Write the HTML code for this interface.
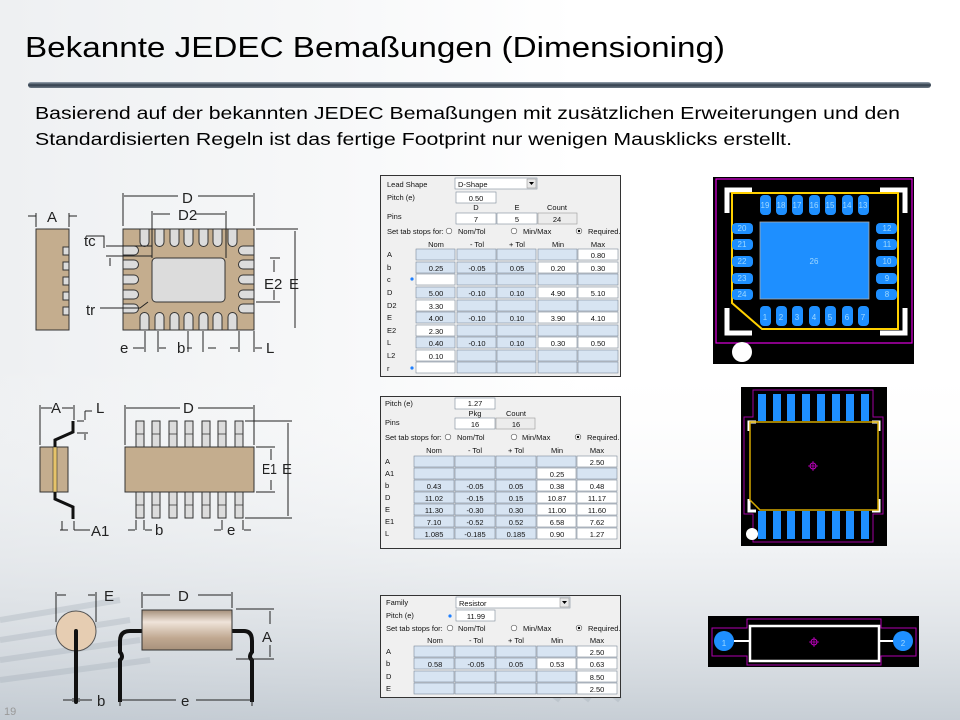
<!DOCTYPE html>
<html><head><meta charset="utf-8"><style>
html,body{margin:0;padding:0;width:960px;height:720px;overflow:hidden;background:#fff}
svg{display:block;font-family:"Liberation Sans",Arial,sans-serif}
.b{fill:#d7e4f2;stroke:#7d8a99;stroke-width:.6}
.w{fill:#fff;stroke:#7d8a99;stroke-width:.6}
.g{fill:#ececec;stroke:#999;stroke-width:.6}
.t{font-size:7.5px;fill:#111}
.c{font-size:7.5px;fill:#111;text-anchor:middle}
.d{font-size:15px;fill:#222}
.dim{stroke:#222;stroke-width:1;fill:none}
.tan{fill:#c4ad8e;stroke:#333;stroke-width:1}
.pad{fill:#dcdcdc;stroke:#333;stroke-width:1}
.bp{fill:#1e8fff}
.pt{font-size:8px;fill:#9fd8ff;text-anchor:middle}
</style></head><body>
<svg width="960" height="720" viewBox="0 0 960 720" xmlns="http://www.w3.org/2000/svg">
<defs>
<linearGradient id="bg" x1="0" y1="0" x2="1" y2="0">
<stop offset="0" stop-color="#eef0f2"/><stop offset=".35" stop-color="#f7f8f9"/><stop offset=".6" stop-color="#ffffff"/><stop offset="1" stop-color="#ffffff"/></linearGradient>
<linearGradient id="bg2" x1="0" y1="0" x2="0" y2="1">
<stop offset="0" stop-color="#fff" stop-opacity="0"/><stop offset=".6" stop-color="#d8dde2" stop-opacity=".5"/><stop offset="1" stop-color="#b9c2cb" stop-opacity=".8"/></linearGradient>
<linearGradient id="bar" x1="0" y1="0" x2="0" y2="1">
<stop offset="0" stop-color="#9aa6b2"/><stop offset=".5" stop-color="#2f3c4a"/><stop offset="1" stop-color="#6f7a86"/></linearGradient>
<linearGradient id="res" x1="0" y1="0" x2="0" y2="1">
<stop offset="0" stop-color="#a58f7a"/><stop offset=".3" stop-color="#efe4da"/><stop offset=".7" stop-color="#c0a891"/><stop offset="1" stop-color="#a8927c"/></linearGradient>
</defs>
<rect width="960" height="720" fill="url(#bg)"/>
<rect x="0" y="360" width="960" height="360" fill="url(#bg2)"/>
<g opacity=".25" stroke="#8f9aa6" stroke-width="6" fill="none">
<path d="M0 620 L120 600 M0 640 L130 620 M0 660 L140 640 M0 680 L150 660"/>
<path d="M480 640 L560 700 M500 630 L590 700 M520 620 L620 700"/>
</g>

<text x="25" y="57" font-size="29" fill="#000" textLength="700" lengthAdjust="spacingAndGlyphs">Bekannte JEDEC Bemaßungen (Dimensioning)</text>
<rect x="28" y="82" width="903" height="6" rx="3" fill="url(#bar)"/>
<text x="35" y="119" font-size="17.5" fill="#000" textLength="865" lengthAdjust="spacingAndGlyphs">Basierend auf der bekannten JEDEC Bemaßungen mit zusätzlichen Erweiterungen und den</text>
<text x="35" y="145" font-size="17.5" fill="#000" textLength="757" lengthAdjust="spacingAndGlyphs">Standardisierten Regeln ist das fertige Footprint nur wenigen Mausklicks erstellt.</text>

<!-- ===== QFN drawing ===== -->
<rect x="36" y="229" width="33" height="101" class="tan"/>
<g class="pad"><rect x="63" y="247" width="6" height="8"/><rect x="63" y="262" width="6" height="8"/><rect x="63" y="277" width="6" height="8"/><rect x="63" y="292" width="6" height="8"/><rect x="63" y="307" width="6" height="8"/></g>
<path class="dim" d="M36 213 V227 M69 213 V227 M28 216 H36 M69 216 H77"/>
<text x="47" y="222" class="d">A</text>
<rect x="123" y="229" width="131" height="101" class="tan"/>
<g class="pad">
<path d="M140 229 V242 a4.5 4.5 0 0 0 9 0 V229Z"/><path d="M155 229 V242 a4.5 4.5 0 0 0 9 0 V229Z"/><path d="M170 229 V242 a4.5 4.5 0 0 0 9 0 V229Z"/><path d="M184 229 V242 a4.5 4.5 0 0 0 9 0 V229Z"/><path d="M199 229 V242 a4.5 4.5 0 0 0 9 0 V229Z"/><path d="M213 229 V242 a4.5 4.5 0 0 0 9 0 V229Z"/><path d="M228 229 V242 a4.5 4.5 0 0 0 9 0 V229Z"/>
<path d="M140 330 V317 a4.5 4.5 0 0 1 9 0 V330Z"/><path d="M155 330 V317 a4.5 4.5 0 0 1 9 0 V330Z"/><path d="M170 330 V317 a4.5 4.5 0 0 1 9 0 V330Z"/><path d="M184 330 V317 a4.5 4.5 0 0 1 9 0 V330Z"/><path d="M199 330 V317 a4.5 4.5 0 0 1 9 0 V330Z"/><path d="M213 330 V317 a4.5 4.5 0 0 1 9 0 V330Z"/><path d="M228 330 V317 a4.5 4.5 0 0 1 9 0 V330Z"/>
<path d="M123 246 H134 a4.5 4.5 0 0 1 0 9 H123Z"/><path d="M123 260 H134 a4.5 4.5 0 0 1 0 9 H123Z"/><path d="M123 275 H134 a4.5 4.5 0 0 1 0 9 H123Z"/><path d="M123 290 H134 a4.5 4.5 0 0 1 0 9 H123Z"/><path d="M123 304 H134 a4.5 4.5 0 0 1 0 9 H123Z"/>
<path d="M254 246 H243 a4.5 4.5 0 0 0 0 9 H254Z"/><path d="M254 260 H243 a4.5 4.5 0 0 0 0 9 H254Z"/><path d="M254 275 H243 a4.5 4.5 0 0 0 0 9 H254Z"/><path d="M254 290 H243 a4.5 4.5 0 0 0 0 9 H254Z"/><path d="M254 304 H243 a4.5 4.5 0 0 0 0 9 H254Z"/>
<rect x="152" y="258" width="73" height="44" rx="4"/>
</g>
<path class="dim" d="M123 193 V226 M254 193 V226 M124 196 H178 M198 196 H253 M152 211 V258 M226 211 V258 M153 214 H170 M196 214 H225 M256 229 H298 M256 302 H280 M270 258 H280 M295 231 V328 M274 260 V272 M274 290 V300 M86 236 H104 V248 M106 246 H152 M106 256 H152 M110 258 V266 M100 308 H140 L148 302"/>
<text x="182" y="203" class="d">D</text><text x="178" y="220" class="d">D2</text>
<text x="264" y="289" class="d">E2</text><text x="289" y="289" class="d">E</text>
<text x="84" y="246" class="d" font-size="14">tc</text><text x="86" y="315" class="d" font-size="14">tr</text>
<path class="dim" d="M145 331 V352 M158 331 V352 M188 331 V352 M203 331 V352 M239 331 V352 M254 331 V352 M133 348 H144 M159 348 H166 M192 348 H187 M208 348 H216 M230 348 H238 M255 348 H262"/>
<text x="120" y="353" class="d" font-size="14">e</text><text x="177" y="353" class="d" font-size="14">b</text><text x="266" y="353" class="d" font-size="14">L</text>

<!-- ===== SOIC drawing ===== -->
<rect x="40" y="447" width="28" height="45" class="tan"/>
<rect x="53" y="447" width="4" height="45" fill="#e6c36a" stroke="#333" stroke-width=".6"/>
<path d="M55 447 V440 L73 432 V421 M55 492 V499 L73 507 V519" stroke="#111" stroke-width="3" fill="none"/>
<path class="dim" d="M40 405 V445 M74 405 V420 M41 408 H52 M62 408 H73 M77 421 H84 M77 433 H88 M85 411 V420 M85 434 V440 M85 411 H92 M62 521 V530 M74 521 V530 M60 530 H68 M74 530 H90"/>
<text x="51" y="413" class="d" font-size="14">A</text><text x="96" y="413" class="d" font-size="14">L</text><text x="91" y="536" class="d" font-size="14">A1</text>
<g class="pad">
<rect x="136" y="421" width="8" height="26"/><rect x="152" y="421" width="8" height="26"/><rect x="169" y="421" width="8" height="26"/><rect x="185" y="421" width="8" height="26"/><rect x="202" y="421" width="8" height="26"/><rect x="218" y="421" width="8" height="26"/><rect x="235" y="421" width="8" height="26"/>
<rect x="136" y="492" width="8" height="26"/><rect x="152" y="492" width="8" height="26"/><rect x="169" y="492" width="8" height="26"/><rect x="185" y="492" width="8" height="26"/><rect x="202" y="492" width="8" height="26"/><rect x="218" y="492" width="8" height="26"/><rect x="235" y="492" width="8" height="26"/>
</g>
<path d="M136 434 H144 M152 434 H160 M169 434 H177 M185 434 H193 M202 434 H210 M218 434 H226 M235 434 H243 M136 505 H144 M152 505 H160 M169 505 H177 M185 505 H193 M202 505 H210 M218 505 H226 M235 505 H243" stroke="#333" stroke-width=".8"/>
<rect x="125" y="447" width="129" height="45" class="tan"/>
<path class="dim" d="M125 405 V445 M254 405 V445 M126 408 H180 M198 408 H253 M245 421 H292 M245 518 H292 M256 447 H275 M256 492 H275 M288 423 V516 M271 449 V460 M271 480 V490 M136 520 V530 M144 520 V530 M128 530 H135 M145 530 H152 M222 520 V530 M243 520 V530 M214 530 H221 M244 530 H251"/>
<text x="183" y="413" class="d" font-size="14">D</text><text x="262" y="474" class="d" font-size="14" textLength="15" lengthAdjust="spacingAndGlyphs">E1</text><text x="282" y="474" class="d" font-size="14">E</text>
<text x="155" y="535" class="d" font-size="14">b</text><text x="227" y="535" class="d" font-size="14">e</text>

<!-- ===== Resistor drawing ===== -->
<circle cx="76" cy="631" r="20" fill="#e6cdb2" stroke="#555" stroke-width="1"/>
<path d="M76 631 V702" stroke="#111" stroke-width="4" fill="none" stroke-linecap="round"/>
<path d="M142 631 H130 Q120 631 120 641 V652 Q124 657 120 660 V702 M232 631 H244 Q252 631 252 641 V652 Q248 657 252 660 V702" stroke="#111" stroke-width="4" fill="none"/>
<rect x="142" y="610" width="90" height="40" fill="url(#res)" stroke="#333" stroke-width="1"/>
<path class="dim" d="M56 592 V622 M96 592 V622 M57 595 H66 M88 595 H95 M142 592 V608 M232 592 V608 M143 595 H170 M198 595 H231 M236 609 H274 M236 659 H274 M270 611 V624 M270 645 V657 M73 698 V702 M79 698 V702 M63 700 H72 M80 700 H92 M120 700 V706 M252 700 V706 M121 700 H176 M196 700 H251"/>
<text x="104" y="601" class="d" font-size="17">E</text><text x="178" y="601" class="d" font-size="17">D</text><text x="262" y="642" class="d" font-size="17">A</text>
<text x="97" y="706" class="d" font-size="16">b</text><text x="181" y="706" class="d" font-size="16">e</text>
<text x="4" y="715" font-size="11" fill="#999">19</text>

<!-- ===== Table 1 ===== -->
<rect x="380" y="175" width="241" height="202" fill="#333"/>
<rect x="381" y="176" width="239" height="200" fill="#f0f0f0"/>
<text x="387" y="187" class="t">Lead Shape</text>
<rect x="455" y="178" width="82" height="11" class="w"/><text x="458" y="187" class="t">D-Shape</text>
<rect x="527" y="179" width="9" height="9" fill="#e8e8e8" stroke="#888" stroke-width=".5"/><path d="M529 182 h5 l-2.5 3z" fill="#000"/>
<text x="387" y="200" class="t">Pitch (e)</text>
<rect x="456" y="192" width="40" height="11" class="w"/><text x="476" y="201" class="c">0.50</text>
<text x="476" y="210" class="c">D</text><text x="517" y="210" class="c">E</text><text x="557" y="210" class="c" fill="#555">Count</text>
<text x="387" y="219" class="t">Pins</text>
<rect x="456" y="213" width="40" height="11" class="w"/><text x="476" y="222" class="c">7</text>
<rect x="497" y="213" width="40" height="11" class="w"/><text x="517" y="222" class="c">5</text>
<rect x="538" y="213" width="39" height="11" class="g"/><text x="557" y="222" class="c" fill="#888">24</text>
<text x="387" y="234" class="t">Set tab stops for:</text>
<circle cx="449" cy="231" r="2.8" fill="#fff" stroke="#555" stroke-width=".6"/><text x="458" y="234" class="t">Nom/Tol</text>
<circle cx="514" cy="231" r="2.8" fill="#fff" stroke="#555" stroke-width=".6"/><text x="523" y="234" class="t">Min/Max</text>
<circle cx="579" cy="231" r="2.8" fill="#fff" stroke="#555" stroke-width=".6"/><circle cx="579" cy="231" r="1.2" fill="#000"/><text x="588" y="234" class="t">Required.</text>
<text x="436" y="247" class="c">Nom</text><text x="477" y="247" class="c">- Tol</text><text x="517" y="247" class="c">+ Tol</text><text x="558" y="247" class="c">Min</text><text x="598" y="247" class="c">Max</text>
<g>
<text x="387" y="257" class="t">A</text><rect x="416" y="249" width="39" height="11" class="b"/><rect x="457" y="249" width="39" height="11" class="b"/><rect x="497" y="249" width="39" height="11" class="b"/><rect x="538" y="249" width="39" height="11" class="b"/><rect x="578" y="249" width="40" height="11" class="w"/><text x="598" y="258" class="c">0.80</text>
<text x="387" y="270" class="t">b</text><rect x="416" y="262" width="39" height="11" class="b"/><rect x="457" y="262" width="39" height="11" class="b"/><rect x="497" y="262" width="39" height="11" class="b"/><rect x="538" y="262" width="39" height="11" class="w"/><rect x="578" y="262" width="40" height="11" class="w"/><text x="436" y="271" class="c">0.25</text><text x="477" y="271" class="c">-0.05</text><text x="517" y="271" class="c">0.05</text><text x="558" y="271" class="c">0.20</text><text x="598" y="271" class="c">0.30</text>
<text x="387" y="282" class="t">c</text><circle cx="412" cy="279" r="1.6" fill="#1e7fff"/><rect x="416" y="274" width="39" height="11" class="w"/><rect x="457" y="274" width="39" height="11" class="b"/><rect x="497" y="274" width="39" height="11" class="b"/><rect x="538" y="274" width="39" height="11" class="b"/><rect x="578" y="274" width="40" height="11" class="b"/>
<text x="387" y="295" class="t">D</text><rect x="416" y="287" width="39" height="11" class="b"/><rect x="457" y="287" width="39" height="11" class="b"/><rect x="497" y="287" width="39" height="11" class="b"/><rect x="538" y="287" width="39" height="11" class="w"/><rect x="578" y="287" width="40" height="11" class="w"/><text x="436" y="296" class="c">5.00</text><text x="477" y="296" class="c">-0.10</text><text x="517" y="296" class="c">0.10</text><text x="558" y="296" class="c">4.90</text><text x="598" y="296" class="c">5.10</text>
<text x="387" y="308" class="t">D2</text><rect x="416" y="300" width="39" height="11" class="w"/><rect x="457" y="300" width="39" height="11" class="b"/><rect x="497" y="300" width="39" height="11" class="b"/><rect x="538" y="300" width="39" height="11" class="b"/><rect x="578" y="300" width="40" height="11" class="b"/><text x="436" y="309" class="c">3.30</text>
<text x="387" y="320" class="t">E</text><rect x="416" y="312" width="39" height="11" class="b"/><rect x="457" y="312" width="39" height="11" class="b"/><rect x="497" y="312" width="39" height="11" class="b"/><rect x="538" y="312" width="39" height="11" class="w"/><rect x="578" y="312" width="40" height="11" class="w"/><text x="436" y="321" class="c">4.00</text><text x="477" y="321" class="c">-0.10</text><text x="517" y="321" class="c">0.10</text><text x="558" y="321" class="c">3.90</text><text x="598" y="321" class="c">4.10</text>
<text x="387" y="333" class="t">E2</text><rect x="416" y="325" width="39" height="11" class="w"/><rect x="457" y="325" width="39" height="11" class="b"/><rect x="497" y="325" width="39" height="11" class="b"/><rect x="538" y="325" width="39" height="11" class="b"/><rect x="578" y="325" width="40" height="11" class="b"/><text x="436" y="334" class="c">2.30</text>
<text x="387" y="345" class="t">L</text><rect x="416" y="337" width="39" height="11" class="b"/><rect x="457" y="337" width="39" height="11" class="b"/><rect x="497" y="337" width="39" height="11" class="b"/><rect x="538" y="337" width="39" height="11" class="w"/><rect x="578" y="337" width="40" height="11" class="w"/><text x="436" y="346" class="c">0.40</text><text x="477" y="346" class="c">-0.10</text><text x="517" y="346" class="c">0.10</text><text x="558" y="346" class="c">0.30</text><text x="598" y="346" class="c">0.50</text>
<text x="387" y="358" class="t">L2</text><rect x="416" y="350" width="39" height="11" class="w"/><rect x="457" y="350" width="39" height="11" class="b"/><rect x="497" y="350" width="39" height="11" class="b"/><rect x="538" y="350" width="39" height="11" class="b"/><rect x="578" y="350" width="40" height="11" class="b"/><text x="436" y="359" class="c">0.10</text>
<text x="387" y="371" class="t">r</text><circle cx="412" cy="368" r="1.6" fill="#1e7fff"/><rect x="416" y="362" width="39" height="11" class="w"/><rect x="457" y="362" width="39" height="11" class="b"/><rect x="497" y="362" width="39" height="11" class="b"/><rect x="538" y="362" width="39" height="11" class="b"/><rect x="578" y="362" width="40" height="11" class="b"/>
</g>

<!-- ===== Table 2 ===== -->
<rect x="380" y="396" width="241" height="153" fill="#333"/>
<rect x="381" y="397" width="239" height="151" fill="#f0f0f0"/>
<text x="385" y="406" class="t">Pitch (e)</text>
<rect x="455" y="398" width="40" height="11" class="w"/><text x="475" y="406" class="c">1.27</text>
<text x="475" y="416" class="c">Pkg</text><text x="516" y="416" class="c" fill="#555">Count</text>
<text x="385" y="425" class="t">Pins</text>
<rect x="455" y="418" width="40" height="11" class="w"/><text x="475" y="427" class="c">16</text>
<rect x="496" y="418" width="39" height="11" class="g"/><text x="516" y="427" class="c" fill="#888">16</text>
<text x="385" y="440" class="t">Set tab stops for:</text>
<circle cx="448" cy="437" r="2.8" fill="#fff" stroke="#555" stroke-width=".6"/><text x="457" y="440" class="t">Nom/Tol</text>
<circle cx="514" cy="437" r="2.8" fill="#fff" stroke="#555" stroke-width=".6"/><text x="522" y="440" class="t">Min/Max</text>
<circle cx="578" cy="437" r="2.8" fill="#fff" stroke="#555" stroke-width=".6"/><circle cx="578" cy="437" r="1.2" fill="#000"/><text x="587" y="440" class="t">Required.</text>
<text x="434" y="453" class="c">Nom</text><text x="475" y="453" class="c">- Tol</text><text x="516" y="453" class="c">+ Tol</text><text x="557" y="453" class="c">Min</text><text x="597" y="453" class="c">Max</text>
<text x="385" y="464" class="t">A</text><rect x="414" y="456" width="40" height="11" class="b"/><rect x="455" y="456" width="40" height="11" class="b"/><rect x="496" y="456" width="40" height="11" class="b"/><rect x="537" y="456" width="39" height="11" class="b"/><rect x="577" y="456" width="40" height="11" class="w"/><text x="597" y="465" class="c">2.50</text>
<text x="385" y="476" class="t">A1</text><rect x="414" y="468" width="40" height="11" class="b"/><rect x="455" y="468" width="40" height="11" class="b"/><rect x="496" y="468" width="40" height="11" class="b"/><rect x="537" y="468" width="39" height="11" class="w"/><rect x="577" y="468" width="40" height="11" class="b"/><text x="557" y="477" class="c">0.25</text>
<text x="385" y="488" class="t">b</text><rect x="414" y="480" width="40" height="11" class="b"/><rect x="455" y="480" width="40" height="11" class="b"/><rect x="496" y="480" width="40" height="11" class="b"/><rect x="537" y="480" width="39" height="11" class="w"/><rect x="577" y="480" width="40" height="11" class="w"/><text x="434" y="489" class="c">0.43</text><text x="475" y="489" class="c">-0.05</text><text x="516" y="489" class="c">0.05</text><text x="557" y="489" class="c">0.38</text><text x="597" y="489" class="c">0.48</text>
<text x="385" y="500" class="t">D</text><rect x="414" y="492" width="40" height="11" class="b"/><rect x="455" y="492" width="40" height="11" class="b"/><rect x="496" y="492" width="40" height="11" class="b"/><rect x="537" y="492" width="39" height="11" class="w"/><rect x="577" y="492" width="40" height="11" class="w"/><text x="434" y="501" class="c">11.02</text><text x="475" y="501" class="c">-0.15</text><text x="516" y="501" class="c">0.15</text><text x="557" y="501" class="c">10.87</text><text x="597" y="501" class="c">11.17</text>
<text x="385" y="512" class="t">E</text><rect x="414" y="504" width="40" height="11" class="b"/><rect x="455" y="504" width="40" height="11" class="b"/><rect x="496" y="504" width="40" height="11" class="b"/><rect x="537" y="504" width="39" height="11" class="w"/><rect x="577" y="504" width="40" height="11" class="w"/><text x="434" y="513" class="c">11.30</text><text x="475" y="513" class="c">-0.30</text><text x="516" y="513" class="c">0.30</text><text x="557" y="513" class="c">11.00</text><text x="597" y="513" class="c">11.60</text>
<text x="385" y="524" class="t">E1</text><rect x="414" y="516" width="40" height="11" class="b"/><rect x="455" y="516" width="40" height="11" class="b"/><rect x="496" y="516" width="40" height="11" class="b"/><rect x="537" y="516" width="39" height="11" class="w"/><rect x="577" y="516" width="40" height="11" class="w"/><text x="434" y="525" class="c">7.10</text><text x="475" y="525" class="c">-0.52</text><text x="516" y="525" class="c">0.52</text><text x="557" y="525" class="c">6.58</text><text x="597" y="525" class="c">7.62</text>
<text x="385" y="536" class="t">L</text><rect x="414" y="528" width="40" height="11" class="b"/><rect x="455" y="528" width="40" height="11" class="b"/><rect x="496" y="528" width="40" height="11" class="b"/><rect x="537" y="528" width="39" height="11" class="w"/><rect x="577" y="528" width="40" height="11" class="w"/><text x="434" y="537" class="c">1.085</text><text x="475" y="537" class="c">-0.185</text><text x="516" y="537" class="c">0.185</text><text x="557" y="537" class="c">0.90</text><text x="597" y="537" class="c">1.27</text>

<!-- ===== Table 3 ===== -->
<rect x="380" y="595" width="241" height="103" fill="#333"/>
<rect x="381" y="596" width="239" height="101" fill="#f0f0f0"/>
<text x="386" y="605" class="t">Family</text>
<rect x="456" y="597" width="114" height="11" class="w"/><text x="459" y="606" class="t">Resistor</text>
<rect x="560" y="598" width="9" height="9" fill="#e8e8e8" stroke="#888" stroke-width=".5"/><path d="M562 601 h5 l-2.5 3z" fill="#000"/>
<text x="386" y="618" class="t">Pitch (e)</text><circle cx="450" cy="616" r="1.6" fill="#1e7fff"/>
<rect x="456" y="610" width="39" height="11" class="w"/><text x="476" y="619" class="c">11.99</text>
<text x="386" y="631" class="t">Set tab stops for:</text>
<circle cx="450" cy="628" r="2.8" fill="#fff" stroke="#555" stroke-width=".6"/><text x="458" y="631" class="t">Nom/Tol</text>
<circle cx="514" cy="628" r="2.8" fill="#fff" stroke="#555" stroke-width=".6"/><text x="523" y="631" class="t">Min/Max</text>
<circle cx="579" cy="628" r="2.8" fill="#fff" stroke="#555" stroke-width=".6"/><circle cx="579" cy="628" r="1.2" fill="#000"/><text x="588" y="631" class="t">Required.</text>
<text x="435" y="643" class="c">Nom</text><text x="476" y="643" class="c">- Tol</text><text x="516" y="643" class="c">+ Tol</text><text x="557" y="643" class="c">Min</text><text x="597" y="643" class="c">Max</text>
<text x="386" y="654" class="t">A</text><rect x="414" y="646" width="40" height="11" class="b"/><rect x="455" y="646" width="40" height="11" class="b"/><rect x="496" y="646" width="40" height="11" class="b"/><rect x="537" y="646" width="39" height="11" class="b"/><rect x="577" y="646" width="40" height="11" class="w"/><text x="597" y="655" class="c">2.50</text>
<text x="386" y="666" class="t">b</text><rect x="414" y="658" width="40" height="11" class="b"/><rect x="455" y="658" width="40" height="11" class="b"/><rect x="496" y="658" width="40" height="11" class="b"/><rect x="537" y="658" width="39" height="11" class="w"/><rect x="577" y="658" width="40" height="11" class="w"/><text x="435" y="667" class="c">0.58</text><text x="476" y="667" class="c">-0.05</text><text x="516" y="667" class="c">0.05</text><text x="557" y="667" class="c">0.53</text><text x="597" y="667" class="c">0.63</text>
<text x="386" y="679" class="t">D</text><rect x="414" y="671" width="40" height="11" class="b"/><rect x="455" y="671" width="40" height="11" class="b"/><rect x="496" y="671" width="40" height="11" class="b"/><rect x="537" y="671" width="39" height="11" class="b"/><rect x="577" y="671" width="40" height="11" class="w"/><text x="597" y="680" class="c">8.50</text>
<text x="386" y="691" class="t">E</text><rect x="414" y="683" width="40" height="11" class="b"/><rect x="455" y="683" width="40" height="11" class="b"/><rect x="496" y="683" width="40" height="11" class="b"/><rect x="537" y="683" width="39" height="11" class="b"/><rect x="577" y="683" width="40" height="11" class="w"/><text x="597" y="692" class="c">2.50</text>

<!-- ===== Footprint 1 (QFN) ===== -->
<rect x="713" y="177" width="201" height="187" fill="#000"/>
<rect x="716" y="179" width="196" height="164" fill="none" stroke="#e000e0" stroke-width="1.2"/>
<path d="M727 213 V190 H752 M880 190 H905 V213 M727 308 V333 H752 M880 333 H905 V308" stroke="#fff" stroke-width="5" fill="none"/>
<path d="M732 193 H898 V329 H762 L732 303 Z" fill="none" stroke="#ffd000" stroke-width="2"/>
<rect x="760" y="222" width="109" height="77" class="bp" stroke="#aaa" stroke-width=".8"/>
<text x="814" y="264" class="pt" font-size="9">26</text>
<g class="bp">
<rect x="760" y="195" width="11" height="20" rx="4"/><rect x="776" y="195" width="11" height="20" rx="4"/><rect x="792" y="195" width="11" height="20" rx="4"/><rect x="809" y="195" width="11" height="20" rx="4"/><rect x="825" y="195" width="11" height="20" rx="4"/><rect x="842" y="195" width="11" height="20" rx="4"/><rect x="858" y="195" width="11" height="20" rx="4"/>
<rect x="760" y="306" width="11" height="20" rx="4"/><rect x="776" y="306" width="11" height="20" rx="4"/><rect x="792" y="306" width="11" height="20" rx="4"/><rect x="809" y="306" width="11" height="20" rx="4"/><rect x="825" y="306" width="11" height="20" rx="4"/><rect x="842" y="306" width="11" height="20" rx="4"/><rect x="858" y="306" width="11" height="20" rx="4"/>
<rect x="732" y="223" width="21" height="11" rx="4"/><rect x="732" y="239" width="21" height="11" rx="4"/><rect x="732" y="256" width="21" height="11" rx="4"/><rect x="732" y="273" width="21" height="11" rx="4"/><rect x="732" y="289" width="21" height="11" rx="4"/>
<rect x="876" y="223" width="21" height="11" rx="4"/><rect x="876" y="239" width="21" height="11" rx="4"/><rect x="876" y="256" width="21" height="11" rx="4"/><rect x="876" y="273" width="21" height="11" rx="4"/><rect x="876" y="289" width="21" height="11" rx="4"/>
</g>
<g class="pt"><text x="765" y="208">19</text><text x="781" y="208">18</text><text x="797" y="208">17</text><text x="814" y="208">16</text><text x="830" y="208">15</text><text x="847" y="208">14</text><text x="863" y="208">13</text>
<text x="765" y="320">1</text><text x="781" y="320">2</text><text x="797" y="320">3</text><text x="814" y="320">4</text><text x="830" y="320">5</text><text x="847" y="320">6</text><text x="863" y="320">7</text>
<text x="742" y="231">20</text><text x="742" y="247">21</text><text x="742" y="264">22</text><text x="742" y="281">23</text><text x="742" y="297">24</text>
<text x="887" y="231">12</text><text x="887" y="247">11</text><text x="887" y="264">10</text><text x="887" y="281">9</text><text x="887" y="297">8</text></g>
<circle cx="742" cy="352" r="10" fill="#fff"/>

<!-- ===== Footprint 2 (SOIC) ===== -->
<rect x="741" y="387" width="146" height="159" fill="#000"/>
<path d="M753 390 H873 V417 H883 V514 H873 V542 H753 V514 H744 V417 H753 Z" fill="none" stroke="#a000a0" stroke-width="1"/>
<g class="bp">
<rect x="758" y="394" width="8" height="27"/><rect x="773" y="394" width="8" height="27"/><rect x="787" y="394" width="8" height="27"/><rect x="802" y="394" width="8" height="27"/><rect x="817" y="394" width="8" height="27"/><rect x="832" y="394" width="8" height="27"/><rect x="846" y="394" width="8" height="27"/><rect x="861" y="394" width="8" height="27"/>
<rect x="758" y="511" width="8" height="28"/><rect x="773" y="511" width="8" height="28"/><rect x="787" y="511" width="8" height="28"/><rect x="802" y="511" width="8" height="28"/><rect x="817" y="511" width="8" height="28"/><rect x="832" y="511" width="8" height="28"/><rect x="846" y="511" width="8" height="28"/><rect x="861" y="511" width="8" height="28"/>
</g>
<path d="M749 431 V422 H756 M872 422 H879 V431 M749 499 V511 H756 M872 511 H879 V499" stroke="#fff" stroke-width="3" fill="none"/>
<path d="M750 422 H878 V510 H760 L750 500 Z" fill="none" stroke="#d4a800" stroke-width="1.5"/>
<circle cx="813" cy="466" r="3" fill="none" stroke="#c000c0"/><path d="M808 466 H818 M813 461 V471" stroke="#c000c0" stroke-width=".8"/>
<circle cx="752" cy="534" r="6" fill="#fff"/>

<!-- ===== Footprint 3 (Resistor) ===== -->
<rect x="708" y="616" width="211" height="51" fill="#000"/>
<path d="M747 619 H881 V628 H916 V656 H881 V665 H747 V656 H712 V628 H747 Z" fill="none" stroke="#b000b0" stroke-width="1"/>
<rect x="750" y="626" width="129" height="35" fill="none" stroke="#fff" stroke-width="2.5"/>
<path d="M734 641 H750 M879 641 H894" stroke="#fff" stroke-width="2"/>
<circle cx="724" cy="641" r="10" class="bp"/><circle cx="903" cy="641" r="10" class="bp"/>
<text x="724" y="646" class="pt" font-size="13" fill="#9ff">1</text><text x="903" y="646" class="pt" font-size="13" fill="#9ff">2</text>
<circle cx="814" cy="642" r="3" fill="none" stroke="#c000c0"/><path d="M809 642 H819 M814 637 V647" stroke="#c000c0" stroke-width=".8"/>
</svg>
</body></html>
